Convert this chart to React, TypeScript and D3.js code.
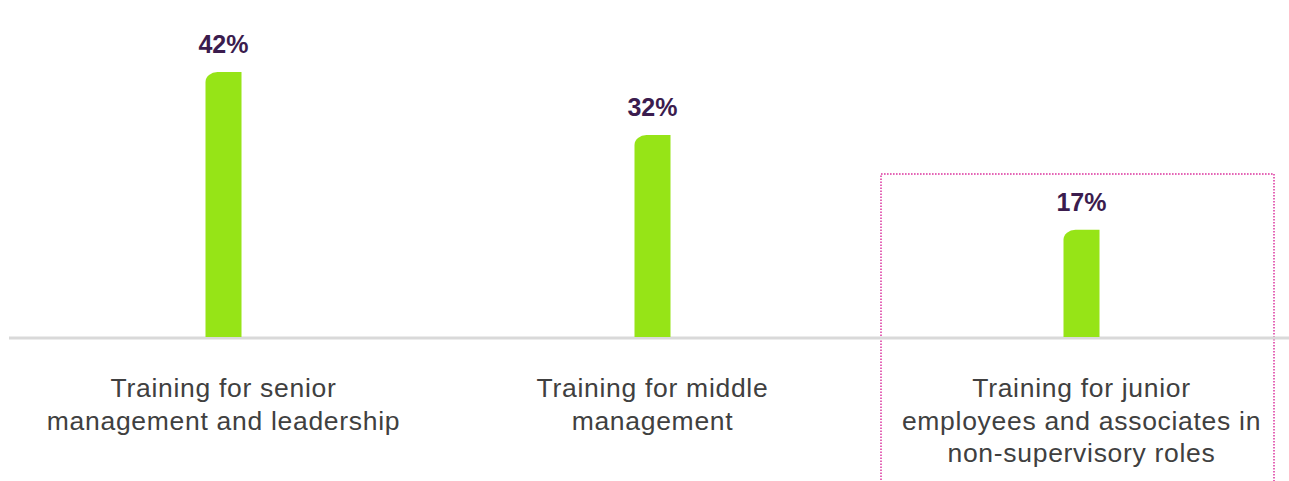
import React, { useEffect, useRef } from "react";
import * as d3 from "d3";

const categories = [
  "Training for senior management and leadership",
  "Training for middle management",
  "Training for junior employees and associates in non-supervisory roles",
];
const categoryLines = [
  ["Training for senior", "management and leadership"],
  ["Training for middle", "management"],
  ["Training for junior", "employees and associates in", "non-supervisory roles"],
];
const values = [42, 32, 17];
const valueLabels = ["42%", "32%", "17%"];
const highlighted = categories[2];

const W = 1289;
const H = 481;

export default function App() {
  const ref = useRef<SVGSVGElement | null>(null);

  useEffect(() => {
    document.body.style.margin = "0";
    const svg = d3.select(ref.current);
    svg.selectAll("*").remove();

    const baseline = 337;
    const x = d3.scaleBand<string>().domain(categories).range([9, 1296]).padding(0);
    const y = d3.scaleLinear().domain([0, 50]).range([baseline, baseline - 315.5]);
    const barW = 36;
    const cx = (c: string) => (x(c) as number) + x.bandwidth() / 2;

    // highlight box
    const hc = cx(highlighted) - 4;
    const boxHalf = 196.5;
    const boxTop = 174;
    svg
      .append("path")
      .attr(
        "d",
        `M${hc - boxHalf},${H + 5} L${hc - boxHalf},${boxTop} L${hc + boxHalf},${boxTop} L${hc + boxHalf},${H + 5}`
      )
      .attr("fill", "none")
      .attr("stroke", "#e466b6")
      .attr("stroke-width", 2)
      .attr("stroke-dasharray", "1.6 1.4");

    // axis line
    svg
      .append("line")
      .attr("x1", 9)
      .attr("x2", W)
      .attr("y1", baseline + 1)
      .attr("y2", baseline + 1)
      .attr("stroke", "#d9d9d9")
      .attr("stroke-width", 3);

    const rx = 12;
    const ry = 10;
    const barPath = (c: string, v: number) => {
      const x0 = cx(c) - barW / 2;
      const x1 = x0 + barW;
      const yt = y(v);
      const yb = y(0);
      return `M${x0},${yb} L${x0},${yt + ry} A${rx},${ry} 0 0 1 ${x0 + rx},${yt} L${x1},${yt} L${x1},${yb} Z`;
    };

    const g = svg.append("g");
    categories.forEach((c, i) => {
      g.append("path").attr("d", barPath(c, values[i])).attr("fill", "#96e417");
      g.append("text")
        .attr("x", cx(c))
        .attr("y", y(values[i]) - 19)
        .attr("text-anchor", "middle")
        .attr("font-family", "'Liberation Sans', Arial, sans-serif")
        .attr("font-weight", "bold")
        .attr("font-size", 25)
        .attr("fill", "#3b1c4e")
        .text(valueLabels[i]);
      const t = g
        .append("text")
        .attr("text-anchor", "middle")
        .attr("font-family", "'Liberation Sans', Arial, sans-serif")
        .attr("font-size", 26.5)
        .attr("letter-spacing", 0.7)
        .attr("fill", "#404040");
      categoryLines[i].forEach((line, j) => {
        t.append("tspan")
          .attr("x", cx(c))
          .attr("y", baseline + 60 + j * 32.5)
          .text(line);
      });
    });
  }, []);

  return (
    <svg
      ref={ref}
      width={W}
      height={H}
      style={{ position: "absolute", left: 0, top: 0, display: "block", background: "#fff" }}
    />
  );
}
